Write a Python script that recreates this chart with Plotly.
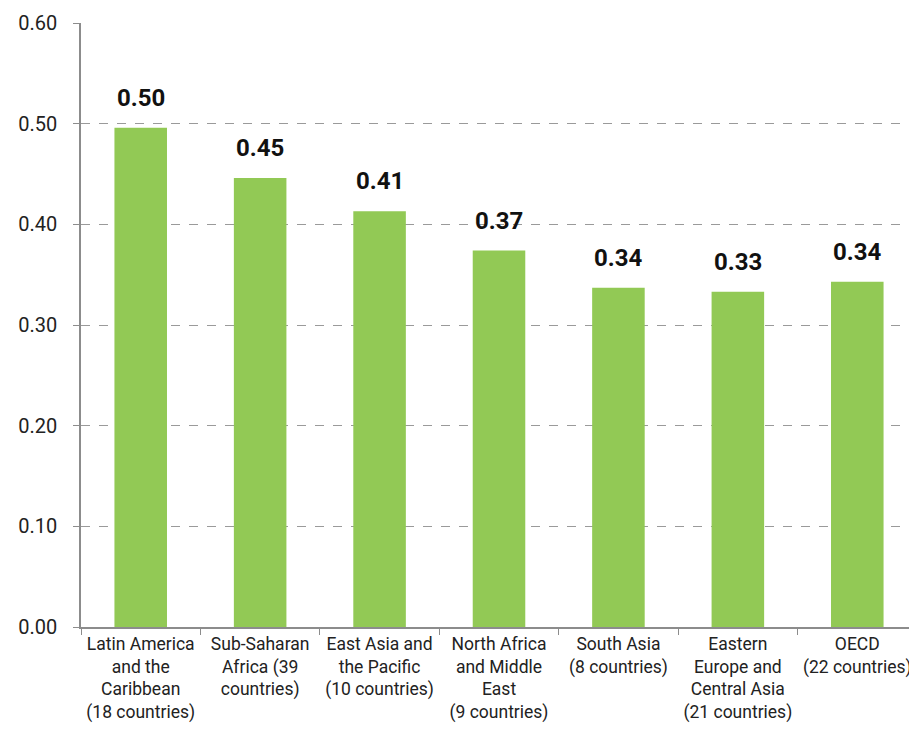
import plotly.graph_objects as go

# Regions and values
regions = [
    "Latin America<br>and the<br>Caribbean<br>(18 countries)",
    "Sub-Saharan<br>Africa (39<br>countries)",
    "East Asia and<br>the Pacific<br>(10 countries)",
    "North Africa<br>and Middle<br>East<br>(9 countries)",
    "South Asia<br>(8 countries)",
    "Eastern<br>Europe and<br>Central Asia<br>(21 countries)",
    "OECD<br>(22 countries)",
]
values = [0.496, 0.446, 0.413, 0.374, 0.337, 0.333, 0.343]
labels = ["0.50", "0.45", "0.41", "0.37", "0.34", "0.33", "0.34"]
y_ticks = [0.0, 0.1, 0.2, 0.3, 0.4, 0.5, 0.6]

FONT = "Roboto, Arial, sans-serif"

fig = go.Figure()
fig.add_trace(go.Bar(
    x=regions,
    y=values,
    marker=dict(color="#92c955", line=dict(width=0)),
    hoverinfo="x+y",
))

# Value labels above each bar
for r, v, t in zip(regions, values, labels):
    fig.add_annotation(
        x=r, y=v, text=f"<b>{t}</b>", showarrow=False,
        yanchor="bottom", yshift=14,
        font=dict(family=FONT, size=24, color="#111111"),
    )

# page body adds an 8px margin, so the figure is sized to fill the rest
fig.update_layout(
    width=909, height=738,
    paper_bgcolor="white",
    plot_bgcolor="white",
    showlegend=False,
    bargap=0.56,
    margin=dict(l=73, r=0, t=15, b=119),
    font=dict(family=FONT, size=16, color="#222222"),
    xaxis=dict(
        automargin=False,
        showgrid=False,
        showline=True, linecolor="#8c8c8c", linewidth=1.5,
        ticks="outside", tickson="boundaries", ticklen=6, tickcolor="#8c8c8c",
        tickfont=dict(size=17.5),
        tickangle=0,
    ),
    yaxis=dict(
        automargin=False,
        range=[0, 0.6],
        tickvals=y_ticks,
        tickformat=".2f",
        showgrid=True, gridcolor="#9a9a9a", griddash="dash", gridwidth=1,
        showline=True, linecolor="#8c8c8c", linewidth=1.5,
        ticks="outside", ticklen=6, tickcolor="#8c8c8c",
        ticklabelstandoff=12,
        tickfont=dict(size=20),
        zeroline=False,
    ),
)

fig.write_html("out.html")
